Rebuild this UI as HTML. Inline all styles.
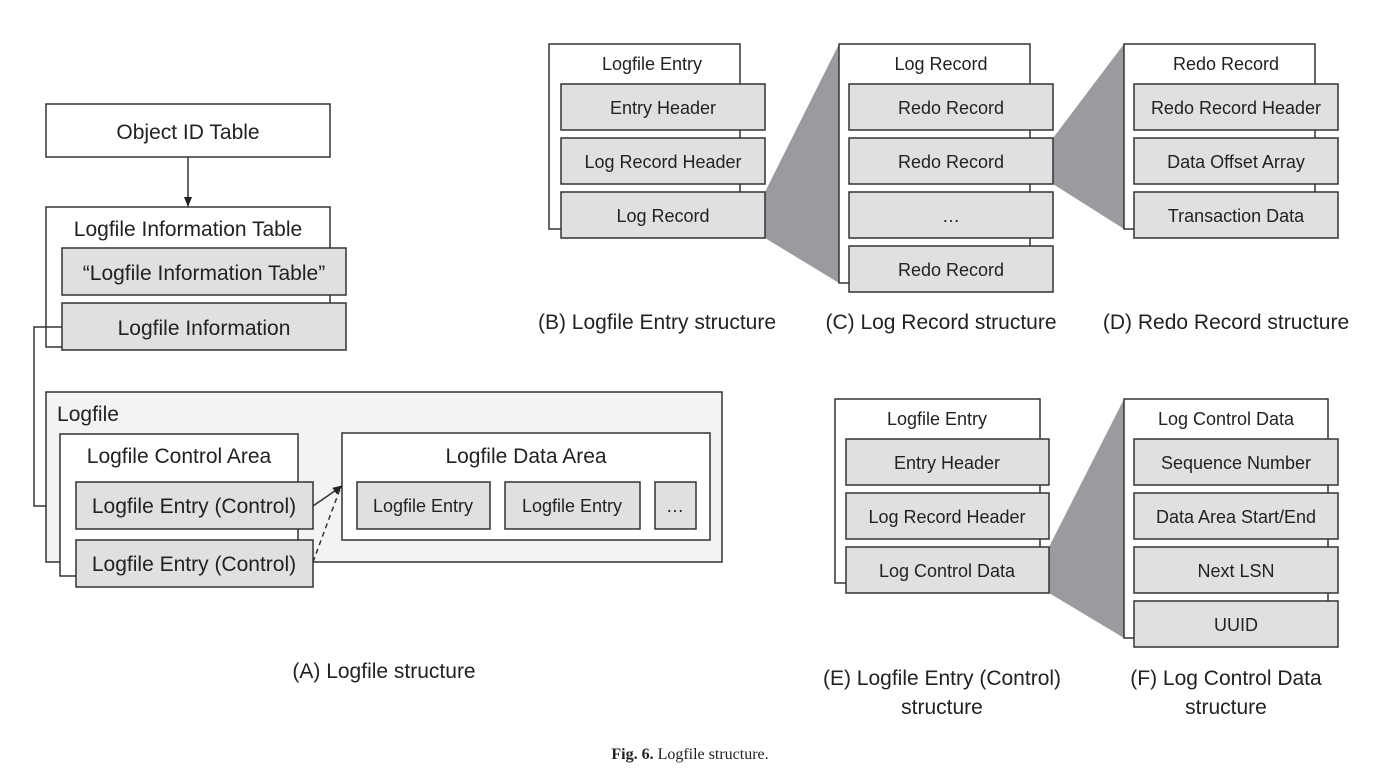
<!DOCTYPE html>
<html><head><meta charset="utf-8"><style>
body{margin:0;background:#fff}
svg text{font-family:"Liberation Sans",sans-serif;fill:#222}
</style></head><body>
<svg width="1380" height="772" viewBox="0 0 1380 772" xmlns="http://www.w3.org/2000/svg">
<defs><marker id="ar" markerWidth="10" markerHeight="8" refX="9" refY="4" orient="auto" markerUnits="userSpaceOnUse"><path d="M0,0 L10,4 L0,8 z" fill="#222"/></marker></defs>
<g stroke="#333" stroke-width="1.5">
<!-- Panel A -->
<rect x="46" y="104" width="284" height="53" fill="#fff"/>
<line x1="188" y1="157" x2="188" y2="206" marker-end="url(#ar)"/>
<rect x="46" y="207" width="284" height="140" fill="#fff"/>
<rect x="62" y="248" width="284" height="47" fill="#e0e0e2"/>
<rect x="62" y="303" width="284" height="47" fill="#e0e0e2"/>
<polyline points="62,327 34,327 34,506 58,506" fill="none" marker-end="url(#ar)"/>
<rect x="46" y="392" width="676" height="170" fill="#f2f3f2"/>
<rect x="60" y="434" width="238" height="142" fill="#fff"/>
<rect x="76" y="482" width="237" height="47" fill="#e0e0e2"/>
<rect x="76" y="540" width="237" height="47" fill="#e0e0e2"/>
<rect x="342" y="433" width="368" height="107" fill="#fff"/>
<rect x="357" y="482" width="133" height="47" fill="#e0e0e2"/>
<rect x="505" y="482" width="135" height="47" fill="#e0e0e2"/>
<rect x="655" y="482" width="41" height="47" fill="#e0e0e2"/>
<line x1="313" y1="506" x2="342" y2="486" marker-end="url(#ar)"/>
<line x1="313" y1="562" x2="340" y2="489" stroke-dasharray="5,4"/>
<!-- wedges -->
<polygon points="765,192 839,44 839,283 765,238" fill="#9a9b9e" stroke="none"/>
<polygon points="1053,138 1124,44 1124,229 1053,184" fill="#9a9b9e" stroke="none"/>
<polygon points="1049,547 1124,399 1124,638 1049,593" fill="#9a9b9e" stroke="none"/>
<!-- B -->
<rect x="549" y="44" width="191" height="185" fill="#fff"/>
<rect x="561" y="84" width="204" height="46" fill="#e0e0e2"/>
<rect x="561" y="138" width="204" height="46" fill="#e0e0e2"/>
<rect x="561" y="192" width="204" height="46" fill="#e0e0e2"/>
<!-- C -->
<rect x="839" y="44" width="191" height="239" fill="#fff"/>
<rect x="849" y="84" width="204" height="46" fill="#e0e0e2"/>
<rect x="849" y="138" width="204" height="46" fill="#e0e0e2"/>
<rect x="849" y="192" width="204" height="46" fill="#e0e0e2"/>
<rect x="849" y="246" width="204" height="46" fill="#e0e0e2"/>
<!-- D -->
<rect x="1124" y="44" width="191" height="185" fill="#fff"/>
<rect x="1134" y="84" width="204" height="46" fill="#e0e0e2"/>
<rect x="1134" y="138" width="204" height="46" fill="#e0e0e2"/>
<rect x="1134" y="192" width="204" height="46" fill="#e0e0e2"/>
<!-- E -->
<rect x="835" y="399" width="205" height="184" fill="#fff"/>
<rect x="846" y="439" width="203" height="46" fill="#e0e0e2"/>
<rect x="846" y="493" width="203" height="46" fill="#e0e0e2"/>
<rect x="846" y="547" width="203" height="46" fill="#e0e0e2"/>
<!-- F -->
<rect x="1124" y="399" width="204" height="239" fill="#fff"/>
<rect x="1134" y="439" width="204" height="46" fill="#e0e0e2"/>
<rect x="1134" y="493" width="204" height="46" fill="#e0e0e2"/>
<rect x="1134" y="547" width="204" height="46" fill="#e0e0e2"/>
<rect x="1134" y="601" width="204" height="46" fill="#e0e0e2"/>
</g>
<g font-size="21" text-anchor="middle">
<text x="188" y="139">Object ID Table</text>
<text x="188" y="236">Logfile Information Table</text>
<text x="204" y="280">“Logfile Information Table”</text>
<text x="204" y="335">Logfile Information</text>
<text x="88" y="421">Logfile</text>
<text x="179" y="463">Logfile Control Area</text>
<text x="526" y="463">Logfile Data Area</text>
<text x="194" y="513">Logfile Entry (Control)</text>
<text x="194" y="571">Logfile Entry (Control)</text>
<text x="384" y="678">(A) Logfile structure</text>
<text x="657" y="329">(B) Logfile Entry structure</text>
<text x="941" y="329">(C) Log Record structure</text>
<text x="1226" y="329">(D) Redo Record structure</text>
<text x="942" y="685">(E) Logfile Entry (Control)</text>
<text x="942" y="714">structure</text>
<text x="1226" y="685">(F) Log Control Data</text>
<text x="1226" y="714">structure</text>
</g>
<g font-size="18" text-anchor="middle">
<text x="423" y="512">Logfile Entry</text>
<text x="572" y="512">Logfile Entry</text>
<text x="675" y="512">…</text>
<text x="652" y="70">Logfile Entry</text>
<text x="663" y="114">Entry Header</text>
<text x="663" y="168">Log Record Header</text>
<text x="663" y="222">Log Record</text>
<text x="941" y="70">Log Record</text>
<text x="951" y="114">Redo Record</text>
<text x="951" y="168">Redo Record</text>
<text x="951" y="222">…</text>
<text x="951" y="276">Redo Record</text>
<text x="1226" y="70">Redo Record</text>
<text x="1236" y="114">Redo Record Header</text>
<text x="1236" y="168">Data Offset Array</text>
<text x="1236" y="222">Transaction Data</text>
<text x="937" y="425">Logfile Entry</text>
<text x="947" y="469">Entry Header</text>
<text x="947" y="523">Log Record Header</text>
<text x="947" y="577">Log Control Data</text>
<text x="1226" y="425">Log Control Data</text>
<text x="1236" y="469">Sequence Number</text>
<text x="1236" y="523">Data Area Start/End</text>
<text x="1236" y="577">Next LSN</text>
<text x="1236" y="631">UUID</text>
</g>
<text x="690" y="759" font-size="16" text-anchor="middle" style="font-family:'Liberation Serif',serif"><tspan font-weight="bold">Fig. 6.</tspan> Logfile structure.</text>
</svg>
</body></html>
